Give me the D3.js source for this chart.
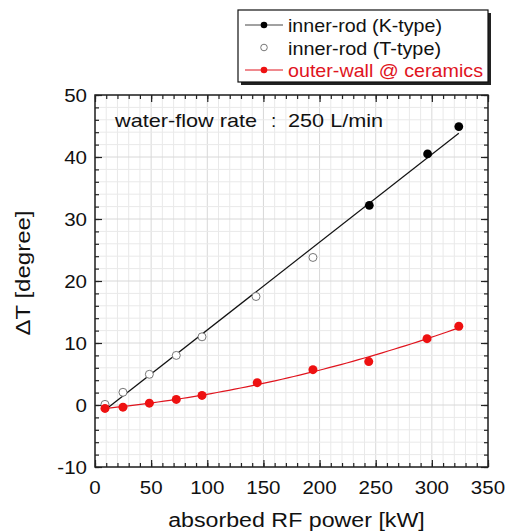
<!DOCTYPE html>
<html>
<head>
<meta charset="utf-8">
<script src="https://cdn.jsdelivr.net/npm/d3@7"></script>
<style>
  body { margin: 0; background: #fff; }
  svg text { font-family: "Liberation Sans", Arial, sans-serif; }
</style>
</head>
<body>
<svg id="chart" width="507" height="532"></svg>
<script>
// inner-rod, K-type thermocouple (filled black)
const kPower = [244.3, 296.2, 324];
const kDelta = [32.2, 40.5, 44.9];
// inner-rod, T-type thermocouple (open circles)
const tPower = [8.9, 24.9, 48.4, 72.4, 95.3, 143.4, 194.1];
const tDelta = [0.1, 2.05, 4.95, 8.0, 11.0, 17.5, 23.8];
// outer-wall @ ceramics (red)
const wPower = [8.9, 24.9, 48.4, 72.4, 95.3, 144.5, 194.1, 243.8, 295.7, 324];
const wDelta = [-0.55, -0.35, 0.3, 0.9, 1.55, 3.6, 5.7, 7.0, 10.7, 12.7];

const xTicks = [0, 50, 100, 150, 200, 250, 300, 350];
const yTicks = [-10, 0, 10, 20, 30, 40, 50];
const legendLabels = ['inner-rod (K-type)', 'inner-rod (T-type)', 'outer-wall @ ceramics'];

const svg = d3.select('#chart');
const pLeft = 95, pRight = 488, pTop = 95, pBottom = 467;
const x = d3.scaleLinear().domain([0, 350]).range([pLeft, pRight]);
const y = d3.scaleLinear().domain([-10, 50]).range([pBottom, pTop]);

// the original font is a wide helvetica, so stretch text horizontally a bit
function widen(sel, k) {
  sel.each(function () {
    const w = this.getComputedTextLength();
    d3.select(this).attr('textLength', w * k).attr('lengthAdjust', 'spacingAndGlyphs');
  });
}

// grid
const grid = svg.append('g');
grid.selectAll('line.gx').data(d3.range(0, 351, 10)).join('line')
  .attr('x1', (d) => x(d)).attr('x2', (d) => x(d)).attr('y1', pTop).attr('y2', pBottom)
  .attr('stroke', (d) => (d % 50 === 0 ? '#d8d8d8' : '#e9e9e9')).attr('stroke-width', 1);
grid.selectAll('line.gy').data(d3.range(-10, 51, 2)).join('line')
  .attr('y1', (d) => y(d)).attr('y2', (d) => y(d)).attr('x1', pLeft).attr('x2', pRight)
  .attr('stroke', (d) => (d % 10 === 0 ? '#d8d8d8' : '#e9e9e9')).attr('stroke-width', 1);

// axes, ticks inside on all four sides
function tickAxis(axisFn, scale, tr, vals, minor) {
  const g = svg.append('g').attr('transform', tr)
    .call(axisFn(scale).tickValues(vals).tickSize(minor ? -4 : -7).tickFormat(''));
  g.select('.domain').remove();
  g.selectAll('line').attr('stroke', '#222').attr('stroke-width', 1.2);
}
const xMinor = d3.range(0, 351, 10), yMinor = d3.range(-10, 51, 2);
tickAxis(d3.axisBottom, x, `translate(0,${pBottom})`, xMinor, true);
tickAxis(d3.axisBottom, x, `translate(0,${pBottom})`, xTicks, false);
tickAxis(d3.axisTop, x, `translate(0,${pTop})`, xMinor, true);
tickAxis(d3.axisTop, x, `translate(0,${pTop})`, xTicks, false);
tickAxis(d3.axisLeft, y, `translate(${pLeft},0)`, yMinor, true);
tickAxis(d3.axisLeft, y, `translate(${pLeft},0)`, yTicks, false);
tickAxis(d3.axisRight, y, `translate(${pRight},0)`, yMinor, true);
tickAxis(d3.axisRight, y, `translate(${pRight},0)`, yTicks, false);

svg.append('rect').attr('x', pLeft).attr('y', pTop).attr('width', pRight - pLeft).attr('height', pBottom - pTop)
  .attr('fill', 'none').attr('stroke', '#222').attr('stroke-width', 1.5);

// tick labels
svg.append('g').selectAll('text').data(xTicks).join('text')
  .attr('x', (d) => x(d)).attr('y', pBottom + 27).attr('text-anchor', 'middle')
  .attr('font-size', 19).attr('fill', '#111').text((d) => d)
  .call(widen, 1.08);
svg.append('g').selectAll('text').data(yTicks).join('text')
  .attr('x', pLeft - 8).attr('y', (d) => y(d) + 7).attr('text-anchor', 'end')
  .attr('font-size', 19).attr('fill', '#111').text((d) => d)
  .call(widen, 1.08);

svg.append('text').attr('x', (pLeft + pRight) / 2 + 5).attr('y', 527).attr('text-anchor', 'middle')
  .attr('font-size', 20).attr('fill', '#111').text('absorbed RF power [kW]')
  .call(widen, 1.16);
svg.append('text').attr('transform', `translate(30,${(pTop + pBottom) / 2 - 8}) rotate(-90)`)
  .attr('text-anchor', 'middle').attr('font-size', 20).attr('fill', '#111').text('\u0394T [degree]')
  .call(widen, 1.2);

// annotation
const note = svg.append('g').attr('font-size', 19).attr('fill', '#111');
note.append('text').attr('x', 115).attr('y', 127).text('water-flow rate').call(widen, 1.14);
note.append('text').attr('x', 271).attr('y', 127).text(':');
note.append('text').attr('x', 288).attr('y', 127).text('250 L/min').call(widen, 1.14);

// least-squares fits
function linFit(xs, ys) {
  const mx = d3.mean(xs), my = d3.mean(ys);
  const b = d3.sum(xs, (v, i) => (v - mx) * (ys[i] - my)) / d3.sum(xs, (v) => (v - mx) ** 2);
  return [my - b * mx, b];
}
function quadFit(xs, ys) {
  // normal equations for y = a + b x + c x^2
  const s = (p) => d3.sum(xs, (v) => v ** p);
  const t = (p) => d3.sum(xs, (v, i) => v ** p * ys[i]);
  const M = [[s(0), s(1), s(2), t(0)], [s(1), s(2), s(3), t(1)], [s(2), s(3), s(4), t(2)]];
  for (let i = 0; i < 3; i++) {
    for (let k = i + 1; k < 3; k++) {
      const f = M[k][i] / M[i][i];
      for (let j = i; j < 4; j++) M[k][j] -= f * M[i][j];
    }
  }
  const r = [0, 0, 0];
  for (let i = 2; i >= 0; i--) {
    let v = M[i][3];
    for (let j = i + 1; j < 3; j++) v -= M[i][j] * r[j];
    r[i] = v / M[i][i];
  }
  return r;
}
const rodX = tPower.concat(kPower), rodY = tDelta.concat(kDelta);
const [la, lb] = linFit(rodX, rodY);
const [qa, qb, qc] = quadFit(wPower, wDelta);
const x0 = d3.min(wPower), x1 = d3.max(wPower);

svg.append('line').attr('x1', x(x0)).attr('y1', y(la + lb * x0)).attr('x2', x(x1)).attr('y2', y(la + lb * x1))
  .attr('stroke', '#111').attr('stroke-width', 1.2);
const curveX = d3.range(x0, x1 + 0.01, (x1 - x0) / 60);
svg.append('path').datum(curveX)
  .attr('d', d3.line().x((d) => x(d)).y((d) => y(qa + qb * d + qc * d * d)))
  .attr('fill', 'none').attr('stroke', '#e0141e').attr('stroke-width', 1.2);

// markers
svg.append('g').selectAll('circle').data(tPower).join('circle')
  .attr('cx', (d) => x(d)).attr('cy', (d, i) => y(tDelta[i])).attr('r', 4)
  .attr('fill', '#fff').attr('stroke', '#777').attr('stroke-width', 1);
svg.append('g').selectAll('circle').data(kPower).join('circle')
  .attr('cx', (d) => x(d)).attr('cy', (d, i) => y(kDelta[i])).attr('r', 4.4).attr('fill', '#000');
svg.append('g').selectAll('circle').data(wPower).join('circle')
  .attr('cx', (d) => x(d)).attr('cy', (d, i) => y(wDelta[i])).attr('r', 4.5).attr('fill', '#ee1111');

// legend
const lg = svg.append('g');
lg.append('rect').attr('x', 241).attr('y', 13).attr('width', 250).attr('height', 72).attr('fill', '#222');
lg.append('rect').attr('x', 238).attr('y', 10).attr('width', 250).attr('height', 72)
  .attr('fill', '#fff').attr('stroke', '#111').attr('stroke-width', 1.2);
const rows = [
  { line: '#444', fill: '#000', stroke: 'none', text: '#111', w: 154 },
  { line: null, fill: '#fff', stroke: '#777', text: '#111', w: 153 },
  { line: '#e0141e', fill: '#ee1111', stroke: 'none', text: '#e0141e', w: 195 },
];
rows.forEach((r, i) => {
  const cy = 25 + i * 22.5;
  if (r.line) lg.append('line').attr('x1', 245).attr('x2', 283).attr('y1', cy).attr('y2', cy).attr('stroke', r.line).attr('stroke-width', 1);
  lg.append('circle').attr('cx', 264).attr('cy', cy).attr('r', 3.3).attr('fill', r.fill).attr('stroke', r.stroke);
  lg.append('text').attr('x', 288).attr('y', cy + 7).attr('font-size', 19).attr('fill', r.text)
    .attr('textLength', r.w).attr('lengthAdjust', 'spacingAndGlyphs').text(legendLabels[i]);
});
</script>
</body>
</html>
